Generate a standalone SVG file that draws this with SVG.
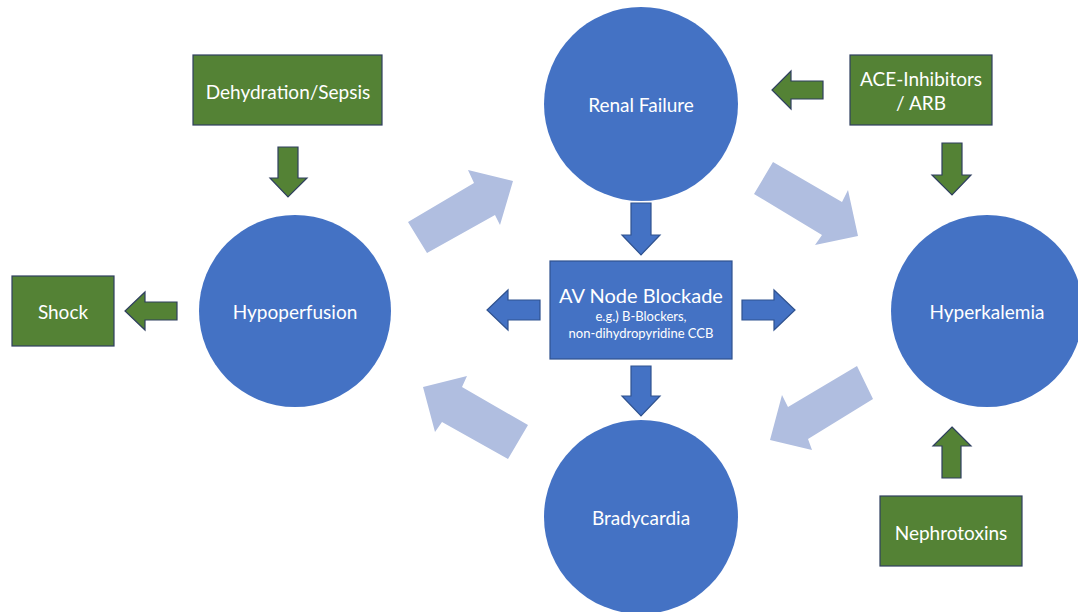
<svg xmlns="http://www.w3.org/2000/svg" width="1078" height="612" viewBox="0 0 1078 612">
<style>
.c{fill:#4472C4;}
.g{fill:#548235;stroke:#2F3F5F;stroke-width:1.2;}
.b{fill:#4472C4;stroke:#2F528F;stroke-width:1.2;}
.l{fill:#B0BEE0;}
text{font-family:Lato,"Open Sans","Liberation Sans",sans-serif;fill:#ffffff;text-anchor:middle;dominant-baseline:central;font-size:19px;}
.s{font-size:13px;}
.big{font-size:20px;}
</style>
<rect width="1078" height="612" fill="#ffffff"/>
<g id="connectors">
<polygon class="l" points="408,222 474,183 468,170 513,181 500,225 495,215 427,253"/>
<polygon class="l" points="773,162 842,202 848,190 858,236 815,245 822,235 754,194"/>
<polygon class="l" points="423,387 467,376 462,387 528,425 508,459 442,422 435,432"/>
<polygon class="l" points="857,366 873,399 808,439 812,450 770,440 782,395 788,407"/>
<polygon class="g" points="278,147 298,147 298,178 307,178 288,197 270,178 278,178"/>
<polygon class="g" points="177,302 177,320 145,320 145,330 125,311 145,292 145,302"/>
<polygon class="g" points="823,81 823,99 791,99 791,109 772,90 791,71 791,81"/>
<polygon class="g" points="942,143 962,143 962,175 971,175 952,195 932,175 942,175"/>
<polygon class="g" points="952,427 971,446 961,446 961,478 942,478 942,446 933,446"/>
<polygon class="b" points="631,203 651,203 651,235 660,235 641,255 622,235 631,235"/>
<polygon class="b" points="540,300 540,320 508,320 508,330 487,310 508,290 508,300"/>
<polygon class="b" points="742,300 774,300 774,290 795,310 774,330 774,320 742,320"/>
<polygon class="b" points="631,366 651,366 651,396 660,396 641,416 622,396 631,396"/>
</g>
<g id="renal"><circle class="c" cx="641" cy="104" r="97"/><text x="641" y="104">Renal Failure</text></g>
<g id="hypoperfusion"><circle class="c" cx="295" cy="311" r="96"/><text x="295" y="311">Hypoperfusion</text></g>
<g id="bradycardia"><circle class="c" cx="641" cy="517" r="97"/><text x="641" y="517">Bradycardia</text></g>
<g id="hyperkalemia"><circle class="c" cx="987" cy="311" r="96"/><text x="987" y="311">Hyperkalemia</text></g>
<g id="avnode"><rect class="b" x="550" y="261" width="182" height="98"/>
<text class="big" x="641" y="295">AV Node Blockade</text>
<text class="s" x="641" y="316">e.g.) B-Blockers,</text>
<text class="s" x="641" y="333">non-dihydropyridine CCB</text></g>
<g id="dehydration"><rect class="g" x="193" y="55" width="189" height="70"/><text x="288" y="91">Dehydration/Sepsis</text></g>
<g id="shock"><rect class="g" x="12" y="276" width="102" height="70"/><text x="63" y="311">Shock</text></g>
<g id="ace"><rect class="g" x="850" y="55" width="142" height="70"/><text x="921" y="78">ACE-Inhibitors</text><text x="921" y="102">/ ARB</text></g>
<g id="nephrotoxins"><rect class="g" x="880" y="496" width="142" height="70"/><text x="951" y="532">Nephrotoxins</text></g>
</svg>
